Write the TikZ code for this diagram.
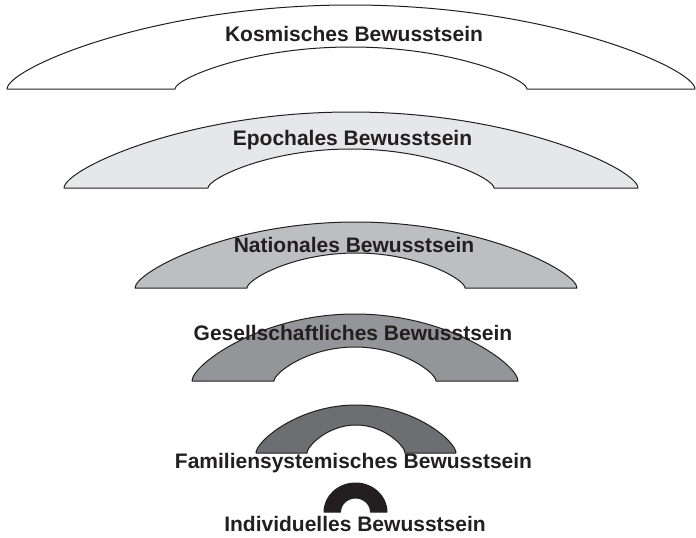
\documentclass[tikz,border=0pt]{standalone}
\usepackage{fontspec}
\setmainfont{Liberation Sans}
\usepackage{xcolor}
\definecolor{ink}{HTML}{231F20}
\definecolor{epoch}{HTML}{E6E7E8}
\definecolor{nation}{HTML}{BCBEC0}
\definecolor{society}{HTML}{939598}
\definecolor{family}{HTML}{6D6E71}
\usepackage{tikz}
\usetikzlibrary{positioning}
\tikzstyle{arch} = [draw=ink, line width=1pt, line join=round]
\tikzstyle{label} = [text=ink, anchor=base, inner sep=0pt,
    font=\fontsize{21}{25}\selectfont\bfseries]

% #1 centre x, #2 base y, #3/#4 outer half width/height,
% #5/#6 inner half width/height, #7 fill, #8/#9 curve shape
\newcommand{\bogen}[9]{%
  \path [arch, fill=#7]
    ({#1-#3},#2) .. controls ({#1-#3},{#2-#8*#4}) and ({#1-#9*#3},{#2-#4}) .. ({#1},{#2-#4})
    .. controls ({#1+#9*#3},{#2-#4}) and ({#1+#3},{#2-#8*#4}) .. ({#1+#3},#2)
    -- ({#1+#5},#2)
    .. controls ({#1+#5},{#2-#8*#6}) and ({#1+#9*#5},{#2-#6}) .. ({#1},{#2-#6})
    .. controls ({#1-#9*#5},{#2-#6}) and ({#1-#5},{#2-#8*#6}) .. ({#1-#5},#2)
    -- cycle;}

\begin{document}
\begin{tikzpicture}[x=1pt,y=-1pt]
\useasboundingbox (0,0) rectangle (696,538);

    % Arches, outside in
    \bogen{351}{89}{344}{84}{176}{42}{white}{.24}{.58}
    \bogen{351}{188}{287}{76}{143}{39}{epoch}{.24}{.58}
    \bogen{356}{288}{221}{66}{109}{35}{nation}{.24}{.58}
    \bogen{355}{381}{163}{67}{81}{34}{society}{.24}{.58}
    \bogen{356}{453}{100}{48}{49}{28}{family}{.24}{.58}
    \bogen{355.5}{512}{31.5}{29}{15}{14}{ink}{.55}{.55}

    % Labels
    \node [label] (cosmic) at (354,41) {Kosmisches Bewusstsein};
    \node [label] (epochal) at (352.5,145) {Epochales Bewusstsein};
    \node [label] (national) at (354,252) {Nationales Bewusstsein};
    \node [label] (social) at (353,340) {Gesellschaftliches Bewusstsein};
    \node [label] (familial) at (353.5,468) {Familiensystemisches Bewusstsein};
    \node [label] (individual) at (355,531) {Individuelles Bewusstsein};
\end{tikzpicture}
\end{document}
